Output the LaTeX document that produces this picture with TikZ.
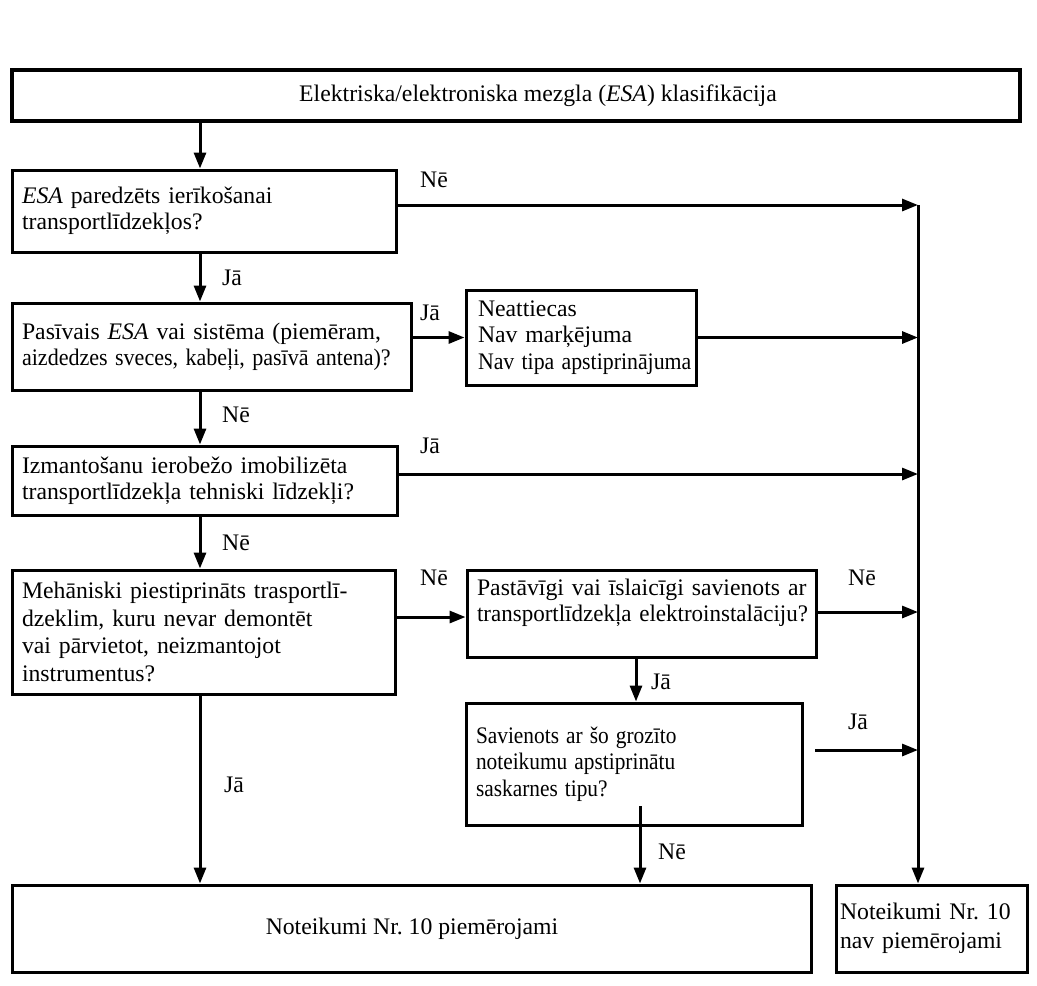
\documentclass[tikz,border=0pt]{standalone}
\usepackage{fontspec}
\setmainfont{Liberation Serif}
\frenchspacing
\usetikzlibrary{arrows.meta}
\begin{document}
\begin{tikzpicture}[x=0.02cm,y=-0.02cm,
  box/.style={draw,line width=0.06cm,rectangle,inner xsep=0.2cm,inner ysep=0pt,align=left,
    font=\fontsize{13.5}{15}\selectfont},
  cbox/.style={box,align=center},
  arr/.style={line width=0.06cm,-{Triangle[length=0.32cm,width=0.24cm]}},
  lbl/.style={font=\fontsize{13.5}{15}\selectfont,inner sep=0pt}]
\useasboundingbox (0,0) rectangle (1037,985);
% boxes
\node[cbox,line width=0.075cm,minimum width=20.16cm,minimum height=1.02cm] (top) at (516,95.5)
  {\hspace*{0.88cm}Elektriska/elektroniska mezgla (\textit{ESA}) klasifikācija};
\node[box,text width=7.3cm,minimum height=1.64cm] (q1) at (204.5,211)
  {\mbox{\textit{ESA} paredzēts ierīkošanai}\\\mbox{transportlīdzekļos?}};
\node[box,text width=7.6cm,minimum height=1.74cm] (q2) at (212,346.5)
  {\mbox{Pasīvais \textit{ESA} vai sistēma (piemēram,}\\\scalebox{0.93}[1]{aizdedzes sveces, kabeļi, pasīvā antena)?}};
\node[box,inner xsep=0.24cm,text width=4.14cm,minimum height=1.9cm] (na) at (581.5,337.5)
  {\mbox{Neattiecas}\\\mbox{Nav marķējuma}\\\scalebox{0.92}[1]{Nav tipa apstiprinājuma}};
\node[box,text width=7.32cm,minimum height=1.38cm] (q3) at (205,480.5)
  {\mbox{Izmantošanu ierobežo imobilizēta}\\\mbox{transportlīdzekļa tehniski līdzekļi?}};
\node[box,text width=7.28cm,minimum height=2.48cm,font=\fontsize{13.5}{15.6}\selectfont] (q4) at (204,632)
  {\mbox{Mehāniski piestiprināts trasportlī-}\\\mbox{dzeklim, kuru nevar demontēt}\\\mbox{vai pārvietot, neizmantojot}\\\mbox{instrumentus?}};
\node[box,text width=6.6cm,minimum height=1.74cm] (q5) at (642,613.5)
  {\mbox{Pastāvīgi vai īslaicīgi savienots ar}\\\scalebox{0.97}[1]{transportlīdzekļa elektroinstalāciju?}\\\mbox{}};
\node[box,text width=6.34cm,minimum height=2.44cm] (q6) at (634.5,764)
  {\scalebox{0.9}[1]{Savienots ar šo grozīto}\\\scalebox{0.9}[1]{noteikumu apstiprinātu}\\\scalebox{0.9}[1]{saskarnes tipu?}};
\node[cbox,minimum width=16cm,minimum height=1.74cm] (yes) at (412,928.5)
  {Noteikumi Nr. 10 piemērojami};
\node[box,inner xsep=0.08cm,text width=3.68cm,minimum height=1.74cm,font=\fontsize{13.5}{16.5}\selectfont] (no) at (932,928.5)
  {\mbox{Noteikumi Nr. 10}\\\mbox{nav piemērojami}};
% helper coordinates
\coordinate (xl) at (200,0);
\coordinate (xr) at (918,0);
\coordinate (r1) at (918,205);
\coordinate (r3) at (918,474);
\coordinate (r4) at (918,612);
\coordinate (y4) at (0,617);
\coordinate (s6) at (815,750);
\coordinate (r6) at (918,750);
\coordinate (d6) at (640,806);
\coordinate (x5) at (636,0);
% connectors
\draw[arr] (top.south -| xl) -- (q1.north -| xl);
\draw[arr] (q1.east |- r1) -- (r1);
\draw[arr] (q1.south -| xl) -- (q2.north -| xl);
\draw[arr] (q2.east |- na.west) -- (na.west);
\draw[arr] (na.east) -- (na.east -| xr);
\draw[arr] (q2.south -| xl) -- (q3.north -| xl);
\draw[arr] (q3.east |- r3) -- (r3);
\draw[arr] (q3.south -| xl) -- (q4.north -| xl);
\draw[arr] (q4.east |- y4) -- (q5.west |- y4);
\draw[arr] (q5.east |- r4) -- (r4);
\draw[arr] (q5.south -| x5) -- (q6.north -| x5);
\draw[arr] (s6) -- (r6);
\draw[arr] (d6) -- (yes.north -| d6);
\draw[arr] (q4.south -| xl) -- (yes.north -| xl);
\draw[arr] (r1) -- (no.north -| xr);
% labels
\node[lbl] (l1) at (434,180) {Nē};
\node[lbl] (l2) at (232,278) {Jā};
\node[lbl] (l3) at (430,313) {Jā};
\node[lbl] (l4) at (236,415) {Nē};
\node[lbl] (l5) at (430,446) {Jā};
\node[lbl] (l6) at (236,543) {Nē};
\node[lbl] (l7) at (434,578) {Nē};
\node[lbl] (l8) at (862,578) {Nē};
\node[lbl] (l9) at (661,682) {Jā};
\node[lbl] (l10) at (858,722) {Jā};
\node[lbl] (l11) at (672,852) {Nē};
\node[lbl] (l12) at (234,785) {Jā};
\end{tikzpicture}
\end{document}
